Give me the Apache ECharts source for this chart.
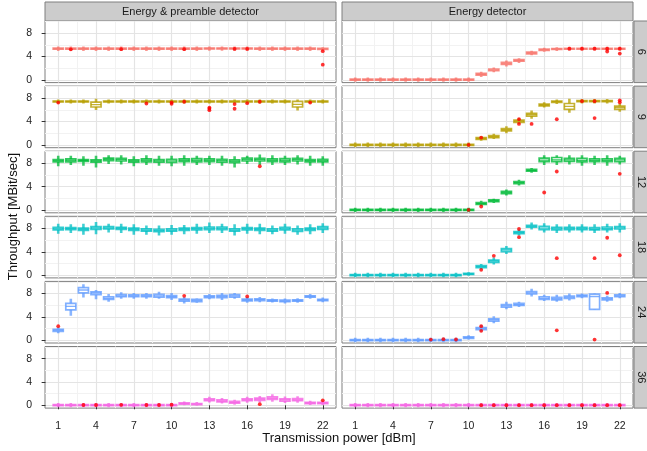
<!DOCTYPE html>
<html><head><meta charset="utf-8">
<script src="https://cdn.jsdelivr.net/npm/echarts@6/dist/echarts.min.js"></script>
<style>html,body{margin:0;padding:0;background:#fff}#c{width:647px;height:451px}</style>
</head><body><div id="c"></div>
<script>
// ---------- categories / labels ----------
const powers = [1,2,3,4,5,6,7,8,9,10,11,12,13,14,15,16,17,18,19,20,21,22];
const rates = ['6','9','12','18','24','36'];
const detectors = ['Energy & preamble detector','Energy detector'];
const xTicks = [1,4,7,10,13,16,19,22];
const xMinorTicks = [2.5,5.5,8.5,11.5,14.5,17.5,20.5];
const yTicks = [0,4,8];
const yMinorTicks = [2,6,10];
const colors = ['#F8766D','#B79F00','#00BA38','#00BFC4','#619CFF','#F564E3'];
const xTitle = 'Transmission power [dBm]';
const yTitle = 'Throughput [MBit/sec]';

// ---------- box statistics per power: [lower whisker, Q1, median, Q3, upper whisker] ----------
// rate 6
const ep6 = [[4.95,5.24,5.33,5.42,5.7],[4.95,5.24,5.33,5.42,5.7],[4.95,5.24,5.33,5.42,5.7],[4.95,5.24,5.33,5.42,5.7],[4.95,5.24,5.33,5.42,5.7],[4.95,5.24,5.33,5.42,5.7],[4.95,5.24,5.33,5.42,5.7],[4.95,5.24,5.33,5.42,5.7],[4.95,5.24,5.33,5.42,5.7],[4.95,5.24,5.33,5.42,5.7],[4.95,5.24,5.33,5.42,5.7],[4.95,5.24,5.33,5.42,5.7],[5.0,5.28,5.36,5.45,5.72],[5.0,5.28,5.36,5.45,5.72],[5.0,5.28,5.36,5.45,5.72],[5.0,5.28,5.36,5.45,5.72],[4.95,5.24,5.33,5.42,5.7],[4.95,5.24,5.33,5.42,5.7],[4.95,5.24,5.33,5.42,5.7],[4.95,5.24,5.33,5.42,5.7],[4.95,5.24,5.33,5.42,5.7],[4.95,5.2,5.3,5.38,5.6]];
const ed6 = [[-0.35,-0.08,0,0.1,0.4],[-0.35,-0.08,0,0.1,0.4],[-0.35,-0.08,0,0.1,0.4],[-0.35,-0.08,0,0.1,0.4],[-0.35,-0.08,0,0.1,0.4],[-0.35,-0.08,0,0.1,0.4],[-0.35,-0.08,0,0.1,0.4],[-0.35,-0.08,0,0.1,0.4],[-0.35,-0.08,0,0.1,0.4],[-0.35,-0.08,0,0.1,0.4],[0.5,0.8,0.95,1.1,1.4],[1.3,1.55,1.7,1.85,2.1],[2.3,2.62,2.8,2.98,3.3],[2.9,3.18,3.3,3.45,3.7],[4.2,4.45,4.6,4.75,5.0],[4.8,5.03,5.15,5.27,5.5],[4.95,5.2,5.28,5.36,5.6],[5.0,5.26,5.33,5.4,5.65],[5.0,5.26,5.33,5.4,5.65],[5.0,5.26,5.33,5.4,5.65],[5.0,5.26,5.33,5.4,5.65],[5.0,5.26,5.33,5.4,5.65]];
// rate 9
const ep9 = [[7.1,7.38,7.45,7.52,7.8],[7.1,7.38,7.45,7.52,7.8],[7.1,7.38,7.45,7.52,7.8],[6.0,6.5,6.9,7.35,7.9],[7.1,7.38,7.45,7.52,7.8],[7.1,7.38,7.45,7.52,7.8],[7.1,7.38,7.45,7.52,7.8],[7.1,7.38,7.45,7.52,7.8],[7.1,7.38,7.45,7.52,7.8],[7.1,7.38,7.45,7.52,7.8],[7.1,7.38,7.45,7.52,7.8],[7.1,7.38,7.45,7.52,7.8],[7.1,7.38,7.45,7.52,7.8],[7.1,7.38,7.45,7.52,7.8],[7.1,7.38,7.45,7.52,7.8],[7.1,7.38,7.45,7.52,7.8],[7.1,7.38,7.45,7.52,7.8],[7.1,7.38,7.45,7.52,7.8],[7.1,7.38,7.45,7.52,7.8],[5.9,6.5,6.95,7.45,7.8],[7.1,7.38,7.45,7.52,7.8],[7.1,7.38,7.45,7.52,7.8]];
const ed9 = [[-0.35,-0.08,0,0.1,0.4],[-0.35,-0.08,0,0.1,0.4],[-0.35,-0.08,0,0.1,0.4],[-0.35,-0.08,0,0.1,0.4],[-0.35,-0.08,0,0.1,0.4],[-0.35,-0.08,0,0.1,0.4],[-0.35,-0.08,0,0.1,0.4],[-0.35,-0.08,0,0.1,0.4],[-0.35,-0.08,0,0.1,0.4],[-0.35,-0.08,0,0.1,0.4],[0.7,0.95,1.1,1.25,1.5],[1.0,1.25,1.4,1.58,1.9],[2.0,2.4,2.6,2.8,3.2],[3.6,3.85,4.05,4.25,4.6],[4.5,4.95,5.2,5.4,5.9],[6.4,6.7,6.85,7.0,7.3],[7.0,7.3,7.42,7.52,7.8],[5.5,6.1,6.6,7.1,7.9],[7.1,7.4,7.5,7.58,7.85],[7.1,7.4,7.5,7.58,7.85],[7.1,7.4,7.5,7.58,7.85],[5.7,6.1,6.4,6.65,7.1]];
// rate 12
const ep12 = [[7.5,8.25,8.46,8.65,9.3],[7.7,8.25,8.52,8.75,9.3],[7.6,8.35,8.5,8.62,9.2],[7.3,8.2,8.4,8.6,9.3],[7.9,8.45,8.7,8.9,9.4],[7.8,8.4,8.64,8.85,9.4],[7.5,8.2,8.4,8.6,9.2],[7.7,8.25,8.52,8.75,9.4],[7.6,8.2,8.42,8.62,9.3],[7.5,8.15,8.42,8.7,9.3],[7.6,8.3,8.52,8.75,9.4],[7.7,8.25,8.52,8.8,9.3],[7.7,8.3,8.52,8.75,9.3],[7.6,8.2,8.46,8.7,9.3],[7.3,8.1,8.35,8.6,9.2],[7.9,8.4,8.64,8.9,9.3],[7.7,8.4,8.64,8.85,9.5],[7.7,8.3,8.52,8.75,9.4],[7.7,8.25,8.52,8.8,9.3],[7.8,8.4,8.64,8.85,9.4],[7.6,8.25,8.46,8.65,9.3],[7.6,8.25,8.46,8.7,9.2]];
const ed12 = [[-0.35,-0.08,0,0.1,0.4],[-0.35,-0.08,0,0.1,0.4],[-0.35,-0.08,0,0.1,0.4],[-0.35,-0.08,0,0.1,0.4],[-0.35,-0.08,0,0.1,0.4],[-0.35,-0.08,0,0.1,0.4],[-0.35,-0.08,0,0.1,0.4],[-0.35,-0.08,0,0.1,0.4],[-0.35,-0.08,0,0.1,0.4],[-0.35,-0.08,0,0.1,0.4],[0.7,0.95,1.1,1.28,1.6],[1.2,1.42,1.57,1.72,1.95],[2.5,2.82,3.0,3.18,3.5],[4.2,4.52,4.7,4.88,5.2],[6.4,6.65,6.8,6.95,7.2],[7.7,8.3,8.55,8.9,9.4],[7.7,8.3,8.6,9.0,9.4],[7.8,8.35,8.6,8.85,9.4],[7.6,8.25,8.5,8.85,9.4],[7.7,8.3,8.5,8.75,9.3],[7.6,8.3,8.5,8.75,9.4],[7.8,8.3,8.6,8.85,9.3]];
// rate 18
const ep18 = [[7.1,7.75,7.97,8.2,8.8],[7.2,7.8,7.97,8.15,8.7],[6.9,7.65,7.85,8.05,8.8],[7.0,7.85,8.08,8.3,9.1],[7.3,7.9,8.08,8.3,8.8],[7.2,7.85,8.02,8.2,8.8],[6.9,7.65,7.85,8.05,8.7],[6.9,7.55,7.74,7.95,8.5],[6.8,7.45,7.63,7.85,8.5],[6.9,7.55,7.74,7.95,8.6],[7.0,7.65,7.85,8.05,8.6],[7.1,7.75,7.97,8.15,8.8],[7.2,7.8,8.02,8.25,9.0],[7.2,7.8,8.02,8.25,8.8],[6.8,7.55,7.74,7.95,8.7],[7.1,7.75,7.97,8.15,8.8],[7.0,7.65,7.85,8.05,8.8],[7.0,7.55,7.74,7.95,8.5],[7.1,7.75,7.97,8.2,8.8],[6.9,7.5,7.74,7.95,8.5],[7.0,7.65,7.85,8.05,8.7],[7.2,7.85,8.08,8.3,8.9]];
const ed18 = [[-0.35,-0.08,0,0.1,0.4],[-0.35,-0.08,0,0.1,0.4],[-0.35,-0.08,0,0.1,0.4],[-0.35,-0.08,0,0.1,0.4],[-0.35,-0.08,0,0.1,0.4],[-0.35,-0.08,0,0.1,0.4],[-0.35,-0.08,0,0.1,0.4],[-0.35,-0.08,0,0.1,0.4],[-0.35,-0.08,0,0.1,0.4],[-0.1,0.1,0.2,0.3,0.5],[1.0,1.28,1.45,1.62,1.9],[1.8,2.18,2.4,2.58,3.0],[3.6,4.0,4.3,4.55,5.0],[6.8,7.1,7.3,7.45,7.8],[7.8,8.2,8.35,8.55,9.0],[7.3,7.8,8.05,8.35,8.9],[7.2,7.75,8.0,8.2,8.7],[7.3,7.8,8.0,8.2,8.7],[7.3,7.8,8.0,8.2,8.7],[7.2,7.75,7.9,8.15,8.7],[7.3,7.8,8.0,8.25,8.8],[7.3,7.9,8.1,8.3,8.9]];
// rate 24
const ep24 = [[1.2,1.52,1.7,1.88,2.2],[4.2,5.2,5.8,6.3,7.1],[7.3,8.1,8.6,9.0,9.6],[7.0,7.8,8.1,8.3,8.6],[6.6,7.0,7.2,7.45,7.9],[7.1,7.45,7.6,7.8,8.2],[7.1,7.45,7.6,7.78,8.1],[7.1,7.45,7.6,7.78,8.1],[7.1,7.4,7.6,7.85,8.3],[6.9,7.3,7.45,7.65,8.1],[6.3,6.7,6.9,7.05,7.4],[6.4,6.62,6.8,7.0,7.15],[7.0,7.3,7.45,7.62,7.9],[6.9,7.3,7.5,7.68,8.1],[7.1,7.4,7.6,7.8,8.1],[6.4,6.75,6.9,7.05,7.4],[6.5,6.8,6.95,7.1,7.4],[6.45,6.7,6.8,6.92,7.15],[6.3,6.6,6.7,6.88,7.15],[6.4,6.7,6.8,6.92,7.2],[7.1,7.38,7.5,7.62,7.9],[6.5,6.78,6.9,7.02,7.3]];
const ed24 = [[-0.35,-0.08,0,0.1,0.4],[-0.35,-0.08,0,0.1,0.4],[-0.35,-0.08,0,0.1,0.4],[-0.35,-0.08,0,0.1,0.4],[-0.35,-0.08,0,0.1,0.4],[-0.35,-0.08,0,0.1,0.4],[-0.35,-0.08,0,0.1,0.4],[-0.35,-0.08,0,0.1,0.4],[-0.35,-0.08,0,0.1,0.4],[0.1,0.33,0.45,0.57,0.85],[1.5,1.82,2.0,2.18,2.6],[2.9,3.28,3.5,3.68,4.1],[5.3,5.68,5.9,6.12,6.6],[5.7,5.98,6.1,6.32,6.6],[7.5,7.92,8.1,8.32,8.8],[6.7,7.0,7.2,7.45,7.8],[6.6,6.9,7.1,7.35,7.8],[6.8,7.15,7.35,7.55,8.0],[7.2,7.48,7.6,7.72,8.0],[5.2,5.3,7.5,7.9,8.0],[6.6,6.92,7.1,7.28,7.6],[7.2,7.45,7.6,7.77,8.1]];
// rate 36
const ep36 = [[-0.35,-0.08,0,0.1,0.4],[-0.35,-0.08,0,0.1,0.4],[-0.35,-0.08,0,0.1,0.4],[-0.35,-0.08,0,0.1,0.4],[-0.35,-0.08,0,0.1,0.4],[-0.35,-0.08,0,0.1,0.4],[-0.35,-0.08,0,0.1,0.4],[-0.35,-0.08,0,0.1,0.4],[-0.35,-0.08,0,0.1,0.4],[-0.35,-0.08,0,0.1,0.4],[0.0,0.18,0.28,0.4,0.65],[-0.05,0.1,0.2,0.3,0.55],[0.5,0.78,0.95,1.12,1.45],[0.3,0.58,0.75,0.92,1.25],[0.1,0.36,0.5,0.66,0.95],[0.45,0.78,0.95,1.12,1.45],[0.5,0.83,1.05,1.22,1.6],[0.6,1.0,1.2,1.45,1.9],[0.4,0.73,0.95,1.12,1.5],[0.45,0.78,0.95,1.17,1.55],[0.05,0.28,0.4,0.52,0.8],[0.05,0.28,0.4,0.52,0.8]];
const ed36 = [[-0.35,-0.08,0,0.1,0.4],[-0.35,-0.08,0,0.1,0.4],[-0.35,-0.08,0,0.1,0.4],[-0.35,-0.08,0,0.1,0.4],[-0.35,-0.08,0,0.1,0.4],[-0.35,-0.08,0,0.1,0.4],[-0.35,-0.08,0,0.1,0.4],[-0.35,-0.08,0,0.1,0.4],[-0.35,-0.08,0,0.1,0.4],[-0.35,-0.08,0,0.1,0.4],[-0.35,-0.08,0,0.1,0.4],[-0.35,-0.08,0,0.1,0.4],[-0.35,-0.08,0,0.1,0.4],[-0.35,-0.08,0,0.1,0.4],[-0.35,-0.08,0,0.1,0.4],[-0.35,-0.08,0,0.1,0.4],[-0.35,-0.08,0,0.1,0.4],[-0.35,-0.08,0,0.1,0.4],[-0.35,-0.08,0,0.1,0.4],[-0.35,-0.08,0,0.1,0.4],[-0.35,-0.08,0,0.1,0.4],[-0.35,-0.08,0,0.1,0.4]];

// ---------- outliers [power, throughput] ----------
const ep6Out = [[2,5.22],[6,5.25],[11,5.25],[15,5.3],[16,5.3],[22,4.9],[22,2.6]];
const ed6Out = [[18,5.33],[19,5.33],[20,5.33],[21,5.33],[21,4.85],[22,5.33],[22,4.5]];
const ep9Out = [[1,7.25],[8,7.1],[10,7.05],[10,7.3],[11,7.4],[13,6.4],[13,6.2],[13,5.95],[15,7.0],[15,6.2],[16,7.15],[17,7.4],[21,7.25]];
const ed9Out = [[10,0.02],[11,1.25],[14,4.4],[14,3.6],[15,3.6],[17,4.4],[19,7.5],[20,7.5],[20,4.6],[22,7.65],[22,7.3]];
const ep12Out = [[17,7.5]];
const ed12Out = [[10,0.02],[11,0.6],[16,3.0],[17,6.6],[22,6.2]];
const ep18Out = [];
const ed18Out = [[11,0.9],[12,3.3],[14,7.9],[14,6.5],[17,2.9],[20,2.9],[21,6.4],[22,3.4]];
const ep24Out = [[1,2.4],[11,7.6],[16,7.5]];
const ed24Out = [[7,0.1],[8,0.18],[9,0.12],[11,2.4],[11,1.6],[17,1.7],[20,0.1],[21,8.1]];
const ep36Out = [[3,0.05],[4,0.05],[6,0.08],[8,0.05],[9,0.05],[10,0.1],[17,0.2],[22,0.85]];
const ed36Out = [[11,0.03],[12,0.03],[13,0.03],[14,0.03],[15,0.03],[16,0.03],[17,0.03],[18,0.03],[19,0.03],[20,0.03],[21,0.03],[22,0.03]];

const boxes = [[ep6,ed6],[ep9,ed9],[ep12,ed12],[ep18,ed18],[ep24,ed24],[ep36,ed36]];
const outs = [[ep6Out,ed6Out],[ep9Out,ed9Out],[ep12Out,ed12Out],[ep18Out,ed18Out],[ep24Out,ed24Out],[ep36Out,ed36Out]];

// ---------- layout ----------
const FONT = "'Liberation Sans', Arial, sans-serif";
const colLeft = [45, 342], panelW = 291;
const top0 = 21, rowStep = 65.1, panelH = 61.6;
const xMin = -0.05, xMax = 23.05, yMin = -0.48, yMax = 10.08;

function makeRender(color){
  return function(params, api){
    const x = api.value(0);
    const lo = api.coord([x, api.value(1)]);
    const q1 = api.coord([x, api.value(2)]);
    const md = api.coord([x, api.value(3)]);
    const q3 = api.coord([x, api.value(4)]);
    const hi = api.coord([x, api.value(5)]);
    const w = api.size([0.8, 0])[0];
    const cx = md[0];
    const ws = {stroke: color, lineWidth: 2.6, opacity: 0.75};
    const bs = {stroke: color, lineWidth: 1.7, opacity: 0.8, fill: 'rgba(255,255,255,0.9)'};
    return {type:'group', children:[
      {type:'line', shape:{x1:cx,y1:lo[1],x2:cx,y2:q1[1]}, style:ws},
      {type:'line', shape:{x1:cx,y1:q3[1],x2:cx,y2:hi[1]}, style:ws},
      {type:'rect', shape:{x:cx-w/2,y:q3[1],width:w,height:Math.max(q1[1]-q3[1],0.5)}, style:bs},
      {type:'line', shape:{x1:cx-w/2,y1:md[1],x2:cx+w/2,y2:md[1]}, style:{stroke:color,lineWidth:1.4,opacity:0.8}}
    ]};
  };
}

const grid = [], xAxis = [], yAxis = [], series = [], graphic = [];
for (let r = 0; r < rates.length; r++) {
  for (let c = 0; c < 2; c++) {
    const g = r*2 + c;
    const top = top0 + r*rowStep;
    grid.push({left: colLeft[c], top: top, width: panelW, height: panelH, show: true,
      backgroundColor: '#fff', borderColor: '#7f7f7f', borderWidth: 1, containLabel: false, outerBoundsMode: 'none'});
    const bottom = (r === rates.length-1);
    xAxis.push({gridIndex:g, type:'value', min:xMin, max:xMax, z:1,
      axisLine:{show:false},
      axisTick:{show:bottom, customValues:xTicks, length:4, lineStyle:{color:'#333'}},
      axisLabel:{show:bottom, customValues:xTicks, margin:13, fontSize:10.5, color:'#222', fontFamily:FONT},
      splitLine:{show:true, lineStyle:{color:'#E4E4E4', width:1.2}}});
    xAxis.push({gridIndex:g, type:'value', min:xMin, max:xMax, z:0,
      axisLine:{show:false},
      axisTick:{show:false, customValues:xMinorTicks},
      axisLabel:{show:false, customValues:xMinorTicks},
      splitLine:{show:true, lineStyle:{color:'#F2F2F2', width:1}}});
    yAxis.push({gridIndex:g, type:'value', min:yMin, max:yMax, z:1,
      axisLine:{show:false},
      axisTick:{show:c===0, customValues:yTicks, length:4, lineStyle:{color:'#333'}},
      axisLabel:{show:c===0, customValues:yTicks, margin:13, fontSize:10.5, color:'#222', fontFamily:FONT},
      splitLine:{show:true, lineStyle:{color:'#E4E4E4', width:1.2}}});
    yAxis.push({gridIndex:g, type:'value', min:yMin, max:yMax, z:0,
      axisLine:{show:false},
      axisTick:{show:false, customValues:yMinorTicks},
      axisLabel:{show:false, customValues:yMinorTicks},
      splitLine:{show:true, lineStyle:{color:'#F2F2F2', width:1}}});
    const stats = boxes[r][c];
    series.push({type:'custom', xAxisIndex:2*g, yAxisIndex:2*g, clip:true, z:3,
      renderItem: makeRender(colors[r]),
      encode:{x:0, y:3},
      data: powers.map((p,i) => [p].concat(stats[i]))});
    series.push({type:'scatter', xAxisIndex:2*g, yAxisIndex:2*g, z:4, symbol:'circle', symbolSize:3.8,
      itemStyle:{color:'#FF0000'}, data: outs[r][c]});
    if (c === 1) {
      graphic.push({type:'rect', shape:{x:634, y:top, width:20, height:panelH},
        style:{fill:'#CCCCCC', stroke:'#7f7f7f', lineWidth:1}});
      graphic.push({type:'text', x:641.5, y:top+panelH/2, rotation:-Math.PI/2,
        style:{text:rates[r], align:'center', verticalAlign:'middle', fontSize:11, fontFamily:FONT, fill:'#1a1a1a'}});
    }
  }
}
for (let c = 0; c < 2; c++) {
  graphic.push({type:'rect', shape:{x:colLeft[c], y:2, width:panelW, height:top0-2},
    style:{fill:'#CCCCCC', stroke:'#7f7f7f', lineWidth:1}});
  graphic.push({type:'text', x:colLeft[c]+panelW/2, y:(2+top0)/2+0.5,
    style:{text:detectors[c], align:'center', verticalAlign:'middle', fontSize:11, fontFamily:FONT, fill:'#1a1a1a'}});
}
graphic.push({type:'text', x:(colLeft[0]+colLeft[1]+panelW)/2, y:438,
  style:{text:xTitle, align:'center', verticalAlign:'middle', fontSize:13, fontFamily:FONT, fill:'#111'}});
graphic.push({type:'text', x:13, y:top0 + (rowStep*5+panelH)/2 + 2, rotation:Math.PI/2,
  style:{text:yTitle, align:'center', verticalAlign:'middle', fontSize:13, fontFamily:FONT, fill:'#111'}});

const chart = echarts.init(document.getElementById('c'), null, {renderer:'canvas'});
chart.setOption({animation:false, backgroundColor:'#fff', grid, xAxis, yAxis, series, graphic});
</script></body></html>
